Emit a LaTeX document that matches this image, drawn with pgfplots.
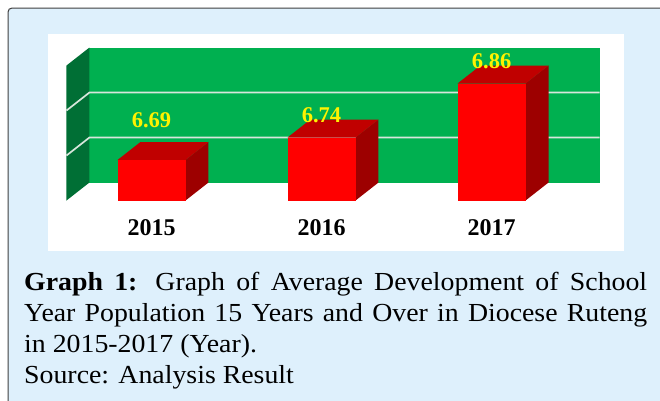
\documentclass[border=0pt]{standalone}
\usepackage{pgfplots}
\usepackage{fontspec}
\pgfplotsset{compat=1.18}
\setmainfont{Liberation Serif}
\newfontfamily\captionfont[FakeStretch=1.07]{Liberation Serif}
\definecolor{panel}{HTML}{DEF0FC}
\definecolor{wall}{HTML}{00B050}
\definecolor{sidewall}{HTML}{006F35}
\definecolor{gridc}{HTML}{D8E6DC}
\definecolor{bartop}{HTML}{C00000}
\definecolor{barside}{HTML}{9D0000}

% one 3D column: x position, value
\newcommand{\column}[2]{%
  \addplot[fill=barside,draw=none] coordinates {({#1+0.2},6.6) ({#1+0.335},6.64) ({#1+0.335},{#2+0.04}) ({#1+0.2},#2)} --cycle;
  \addplot[fill=bartop,draw=none] coordinates {({#1-0.2},#2) ({#1+0.2},#2) ({#1+0.335},{#2+0.04}) ({#1-0.065},{#2+0.04})} --cycle;
  \addplot[fill=red,draw=none] coordinates {({#1-0.2},6.6) ({#1+0.2},6.6) ({#1+0.2},#2) ({#1-0.2},#2)} --cycle;
}

\begin{document}
\begin{tikzpicture}[x=1pt,y=-1pt]
  \path[use as bounding box] (0,0) rectangle (660,400);
  \fill[white] (0,0) rectangle (660,400);
  \begin{scope}
    \clip (0,0) rectangle (660,400);
    \draw[fill=panel,draw=black!75,line width=1pt,rounded corners=4pt] (8,8) rectangle (680,420);
  \end{scope}
  \fill[white] (48,34) rectangle (624,251);

  \begin{axis}[
      at={(48pt,-200.5pt)},
      anchor=south west,
      scale only axis,
      width=576pt,
      height=166.5pt,
      xmin=-0.6088, xmax=2.779,
      ymin=6.6, ymax=6.97,
      clip=false,
      axis line style={draw=none},
      major tick style={draw=none},
      xtick={0,1,2},
      xticklabels={2015,2016,2017},
      xticklabel style={font=\fontsize{24}{24}\selectfont\bfseries,anchor=center,yshift=-27.5pt},
      ytick=\empty,
    ]
    % back wall and left wall
    \addplot[fill=wall,draw=none] coordinates {(-0.365,6.64) (2.635,6.64) (2.635,6.94) (-0.365,6.94)} --cycle;
    \addplot[fill=sidewall,draw=none] coordinates {(-0.5,6.6) (-0.365,6.64) (-0.365,6.94) (-0.5,6.9)} --cycle;
    % grid lines
    \addplot[gridc,line width=1.7pt] coordinates {(-0.5,6.7) (-0.365,6.74) (2.635,6.74)};
    \addplot[gridc,line width=1.7pt] coordinates {(-0.5,6.8) (-0.365,6.84) (2.635,6.84)};
    % columns
    \column{0}{6.69}
    \column{1}{6.74}
    \column{2}{6.86}
    % value labels
    \addplot[
      only marks, mark size=0pt, mark options={draw=none,fill=none},
      visualization depends on=\thisrow{off}\as\off,
      nodes near coords,
      nodes near coords style={
        anchor=center, yshift=\off pt, text=yellow,
        font=\fontsize{22.5}{22.5}\selectfont\bfseries,
        /pgf/number format/fixed, /pgf/number format/precision=2,
        /pgf/number format/fixed zerofill, /pgf/number format/assume math mode=true},
    ] table {
      x y off
      0 6.69 40
      1 6.74 22.5
      2 6.86 22.5
    };
  \end{axis}

  \node[anchor=north west,inner sep=0pt,align=left,
        font=\captionfont\fontsize{26}{31.3}\selectfont] at (24,271.5)
    {\makebox[623pt][s]{\textbf{Graph 1:} Graph of Average Development of School}\\
     \makebox[623pt][s]{Year Population 15 Years and Over in Diocese Ruteng}\\
     in 2015-2017 (Year).\\
     Source: Analysis Result};
\end{tikzpicture}
\end{document}
